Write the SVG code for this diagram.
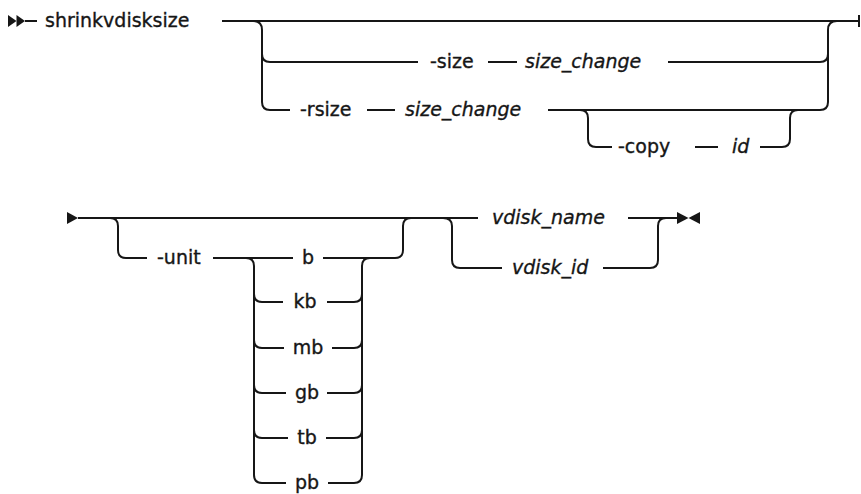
<svg xmlns="http://www.w3.org/2000/svg" width="861" height="494" viewBox="0 0 861 494">
<style>
.t{font-family:"DejaVu Sans","Liberation Sans",sans-serif;font-size:19px;fill:#161616;stroke:#161616;stroke-width:0.35}
.i{font-style:italic}
.c{text-anchor:middle}
.ln{fill:none;stroke:#161616;stroke-width:2}
.mk{fill:#161616}
</style>
<rect width="861" height="494" fill="#ffffff"/>
<g id="connectors">
<path class="ln" d="M25,21 L37,21 M222,21 L858,21 M859,15 L859,27"/>
<path class="ln" d="M253,21 Q262,21 262,30 L262,102 Q262,110 270,110 L290,110"/>
<path class="ln" d="M262,54 Q262,62 270,62 L418,62 M488,62 L517,62 M668,62 L820,62 Q828,62 828,54"/>
<path class="ln" d="M367,110 L395,110 M548,110 L820,110 Q828,110 828,102 L828,30 Q828,21 837,21"/>
<path class="ln" d="M580,110 Q588,110 588,118 L588,139 Q588,147 596,147 L612,147 M695,147 L718,147 M760,147 L782,147 Q790,147 790,139 L790,118 Q790,110 798,110"/>
<path class="ln" d="M78,218 L478,218 M628,218 L677,218"/>
<path class="ln" d="M110,218 Q118,218 118,226 L118,250 Q118,258 126,258 L147,258 M213,258 L293,258"/>
<path class="ln" d="M246,258 Q254,258 254,266 L254,475 Q254,483 262,483 L286,483"/>
<path class="ln" d="M254,294 Q254,302 262,302 L283,302 M254,340 Q254,348 262,348 L284,348 M254,385 Q254,393 262,393 L286,393 M254,430 Q254,438 262,438 L288,438"/>
<path class="ln" d="M323,258 L395,258 Q403,258 403,250 L403,226 Q403,218 411,218"/>
<path class="ln" d="M327,302 L354,302 Q362,302 362,294 M332,348 L354,348 Q362,348 362,340 M327,393 L354,393 Q362,393 362,385 M326,438 L354,438 Q362,438 362,430"/>
<path class="ln" d="M328,483 L354,483 Q362,483 362,475 L362,266 Q362,258 370,258"/>
<path class="ln" d="M443,218 Q452,218 452,226 L452,260 Q452,268 460,268 L502,268 M603,268 L650,268 Q658,268 658,260 L658,226 Q658,218 666,218"/>
<polygon class="mk" points="8,15 16.5,21 8,27"/>
<polygon class="mk" points="16.5,15 25,21 16.5,27"/>
<polygon class="mk" points="67,212 78,218 67,224"/>
<polygon class="mk" points="677,212 688.5,218 677,224"/>
<polygon class="mk" points="700,212 688.5,218 700,224"/>
</g>
<g id="n-cmd"><text class="t" x="45" y="27">shrinkvdisksize</text></g>
<g id="n-size"><text class="t" x="430" y="68">-size</text></g>
<g id="n-size-change1"><text class="t i" x="525" y="68">size_change</text></g>
<g id="n-rsize"><text class="t" x="300" y="116">-rsize</text></g>
<g id="n-size-change2"><text class="t i" x="405" y="116">size_change</text></g>
<g id="n-copy"><text class="t" x="618" y="153">-copy</text></g>
<g id="n-id"><text class="t i" x="732" y="153">id</text></g>
<g id="n-unit"><text class="t" x="157" y="264">-unit</text></g>
<g id="n-b"><text class="t c" x="308" y="264">b</text></g>
<g id="n-kb"><text class="t c" x="305" y="308">kb</text></g>
<g id="n-mb"><text class="t c" x="308" y="354">mb</text></g>
<g id="n-gb"><text class="t c" x="307" y="399">gb</text></g>
<g id="n-tb"><text class="t c" x="307" y="444">tb</text></g>
<g id="n-pb"><text class="t c" x="307" y="489">pb</text></g>
<g id="n-vdisk-name"><text class="t i" x="492" y="224">vdisk_name</text></g>
<g id="n-vdisk-id"><text class="t i" x="512" y="274">vdisk_id</text></g>
</svg>
